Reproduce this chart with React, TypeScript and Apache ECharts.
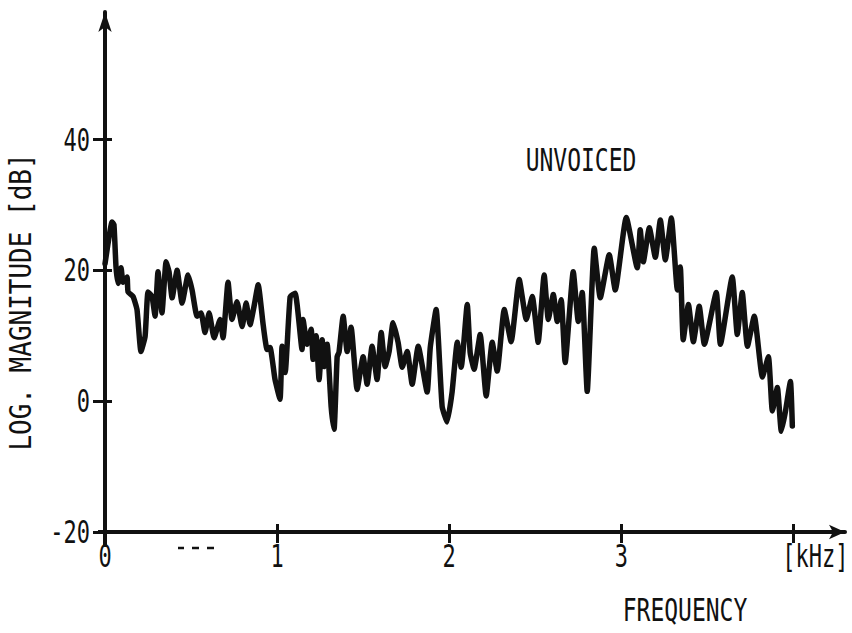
import React, { useEffect, useRef } from "react";
import * as echarts from "echarts";

// Spectrum of an unvoiced speech frame: frequency (kHz) vs log magnitude (dB)
const freqKHz = [
  0.0, 0.017, 0.041, 0.052, 0.064, 0.076, 0.093, 0.105, 0.128, 0.134, 0.163, 0.186,
  0.209, 0.233, 0.25, 0.273, 0.291, 0.308, 0.331, 0.355, 0.372, 0.39, 0.419, 0.448,
  0.483, 0.506, 0.535, 0.558, 0.581, 0.605, 0.634, 0.669, 0.686, 0.715, 0.738, 0.767,
  0.797, 0.82, 0.843, 0.866, 0.89, 0.919, 0.942, 0.959, 0.988, 1.017, 1.029, 1.047,
  1.076, 1.105, 1.145, 1.151, 1.174, 1.198, 1.209, 1.227, 1.244, 1.262, 1.273, 1.291,
  1.314, 1.331, 1.349, 1.36, 1.384, 1.407, 1.43, 1.465, 1.5, 1.523, 1.552, 1.581,
  1.605, 1.628, 1.651, 1.674, 1.703, 1.727, 1.756, 1.785, 1.82, 1.872, 1.89, 1.924,
  1.959, 1.988, 2.017, 2.047, 2.07, 2.105, 2.122, 2.145, 2.18, 2.215, 2.25, 2.279,
  2.32, 2.36, 2.407, 2.448, 2.483, 2.517, 2.552, 2.576, 2.605, 2.628, 2.651, 2.674,
  2.721, 2.75, 2.773, 2.802, 2.843, 2.878, 2.93, 2.965, 3.029, 3.093, 3.11, 3.128,
  3.163, 3.198, 3.227, 3.256, 3.291, 3.326, 3.343, 3.36, 3.39, 3.419, 3.453, 3.483,
  3.552, 3.576, 3.645, 3.674, 3.703, 3.733, 3.773, 3.82, 3.855, 3.878, 3.907, 3.93,
  3.953, 3.983, 3.994,
];

const magDB = [
  21, 24, 27.4, 27, 20.5, 18, 20.4, 18.2, 19, 16.7, 16, 14,
  7.6, 9.9, 16.7, 16, 13, 19.8, 13.5, 21.3, 19.8, 15.8, 20, 15,
  19.3, 17, 13, 13.5, 10.5, 13.5, 9.7, 12.5, 9.7, 18.2, 12.5, 15.2,
  11.4, 15, 11.7, 14.5, 17.8, 11.7, 7.9, 8.2, 3.3, 0.3, 8.4, 4.4,
  16, 16.5, 7.9, 12.5, 8.7, 11, 6.4, 10, 3.3, 9.4, 5.3, 8.7,
  -0.8, -4.3, 6.8, 7.5, 13, 7.6, 11.3, 1.8, 6.8, 2.6, 8.4, 3.3,
  10.5, 5.3, 7.6, 12, 9, 5.2, 7.6, 2.6, 8.4, 1.4, 8.2, 14,
  -0.8, -3.2, 1.4, 9, 5.2, 14.8, 7.4, 4.9, 10.2, 0.8, 9, 4.6,
  14, 9.1, 18.6, 12.5, 16, 9, 19.3, 12.5, 16.3, 12.2, 15.5, 5.9,
  19.8, 12.2, 16.6, 1.5, 23.4, 15.8, 22.4, 17, 28.1, 20.4, 26.2, 21.3,
  26.5, 22, 27.7, 21.6, 28, 17, 20.5, 9.4, 14.8, 9.1, 14.5, 8.7,
  16.6, 8.7, 19, 10.2, 16.6, 8.4, 13, 3.7, 6.8, -1.5, 2.1, -4.6,
  -1.7, 3, -3.8,
];

const xTicks = [0, 1, 2, 3, 4];
const xTickLabels = ["0", "1", "2", "3", "[kHz]"];
const yTicks = [-20, 0, 20, 40];
const yTickLabels = ["-20", "0", "20", "40"];

const FONT = "'DejaVu Sans Mono', monospace";
const INK = "#111";
const X_MIN = 0;
const X_MAX = 4.3;
const Y_MIN = -20;
const Y_MAX = 59.5;

// tall, narrow lettering: monospace glyphs stretched vertically
const tallText = (
  text: string,
  x: number,
  y: number,
  size: number,
  align: string,
  stretch = 1.45
) => ({
  type: "text",
  x,
  y,
  scaleY: stretch,
  style: {
    text,
    fill: INK,
    font: `${size}px ${FONT}`,
    align,
    verticalAlign: "middle",
  },
});

export default function App() {
  const ref = useRef<HTMLDivElement>(null);

  useEffect(() => {
    if (!ref.current) return;
    const chart = echarts.init(ref.current, undefined, { renderer: "svg" });
    const data = freqKHz.map((f, i) => [f, magDB[i]]);

    const axisBase = {
      type: "value",
      splitLine: { show: false },
      axisLabel: { show: false },
    };

    chart.setOption({
      animation: false,
      backgroundColor: "#fff",
      grid: {
        left: 105,
        right: 7,
        top: 12,
        bottom: 101,
        containLabel: false,
        outerBoundsMode: "none",
      },
      xAxis: [
        {
          ...axisBase,
          min: X_MIN,
          max: X_MAX,
          interval: 1,
          axisLine: {
            onZero: false,
            lineStyle: { color: INK, width: 4 },
            symbol: ["none", "arrow"],
            symbolSize: [11, 16],
          },
          axisTick: {
            customValues: xTicks,
            length: 11,
            lineStyle: { color: INK, width: 3 },
          },
        },
        {
          ...axisBase,
          position: "bottom",
          min: X_MIN,
          max: X_MAX,
          interval: 1,
          axisLine: { show: false, onZero: false },
          axisTick: {
            customValues: xTicks,
            inside: true,
            length: 8,
            lineStyle: { color: INK, width: 3 },
          },
        },
      ],
      yAxis: [
        {
          ...axisBase,
          min: Y_MIN,
          max: Y_MAX,
          interval: 20,
          axisLine: {
            onZero: false,
            lineStyle: { color: INK, width: 4 },
            symbol: ["none", "arrow"],
            symbolSize: [10, 20],
          },
          axisTick: {
            customValues: yTicks,
            length: 12,
            lineStyle: { color: INK, width: 3 },
          },
        },
        {
          ...axisBase,
          position: "left",
          min: Y_MIN,
          max: Y_MAX,
          interval: 20,
          axisLine: { show: false, onZero: false },
          axisTick: {
            customValues: yTicks,
            inside: true,
            length: 7,
            lineStyle: { color: INK, width: 3 },
          },
        },
      ],
      series: [
        {
          type: "line",
          data,
          showSymbol: false,
          smooth: 0.15,
          lineStyle: { color: INK, width: 5.5, join: "round", cap: "round" },
          z: 3,
        },
      ],
    });

    // Tick labels placed at the pixel positions of the axis scales
    const toPx = (v: [number, number]) =>
      chart.convertToPixel({ gridIndex: 0 }, v) as number[];
    const axisY = toPx([X_MIN, Y_MIN]);
    const labelGraphics: any[] = [];
    xTicks.forEach((t, i) => {
      const [px] = toPx([t, Y_MIN]);
      const isUnit = i === xTicks.length - 1;
      labelGraphics.push(
        tallText(xTickLabels[i], px + (isUnit ? 22 : 0), axisY[1] + 24, 22, "center")
      );
    });
    yTicks.forEach((t, i) => {
      const [, py] = toPx([X_MIN, t]);
      labelGraphics.push(tallText(yTickLabels[i], axisY[0] - 15, py, 22, "right"));
    });

    chart.setOption({
      graphic: [
        ...labelGraphics,
        // short overhangs where the two axes cross
        {
          type: "line",
          shape: { x1: 98, y1: 532, x2: 106, y2: 532 },
          style: { stroke: INK, lineWidth: 4 },
        },
        {
          type: "line",
          shape: { x1: 105, y1: 530, x2: 105, y2: 547 },
          style: { stroke: INK, lineWidth: 4 },
        },
        tallText("UNVOICED", 581, 160, 23, "center", 1.4),
        tallText("FREQUENCY", 685, 610, 23, "center", 1.4),
        {
          type: "text",
          x: 21,
          y: 302,
          rotation: Math.PI / 2,
          scaleY: 1.15,
          style: {
            text: "LOG. MAGNITUDE [dB]",
            fill: INK,
            font: `26px ${FONT}`,
            align: "center",
            verticalAlign: "middle",
          },
        },
        // small dashes under the axis
        ...[
          [178, 184],
          [192, 199],
          [207, 214],
        ].map(([a, b]) => ({
          type: "line",
          shape: { x1: a, y1: 548, x2: b, y2: 548 },
          style: { stroke: INK, lineWidth: 2.5 },
        })),
      ],
    });

    return () => chart.dispose();
  }, []);

  return (
    <div
      ref={ref}
      style={{ position: "fixed", left: 0, top: 0, width: 852, height: 633 }}
    />
  );
}
